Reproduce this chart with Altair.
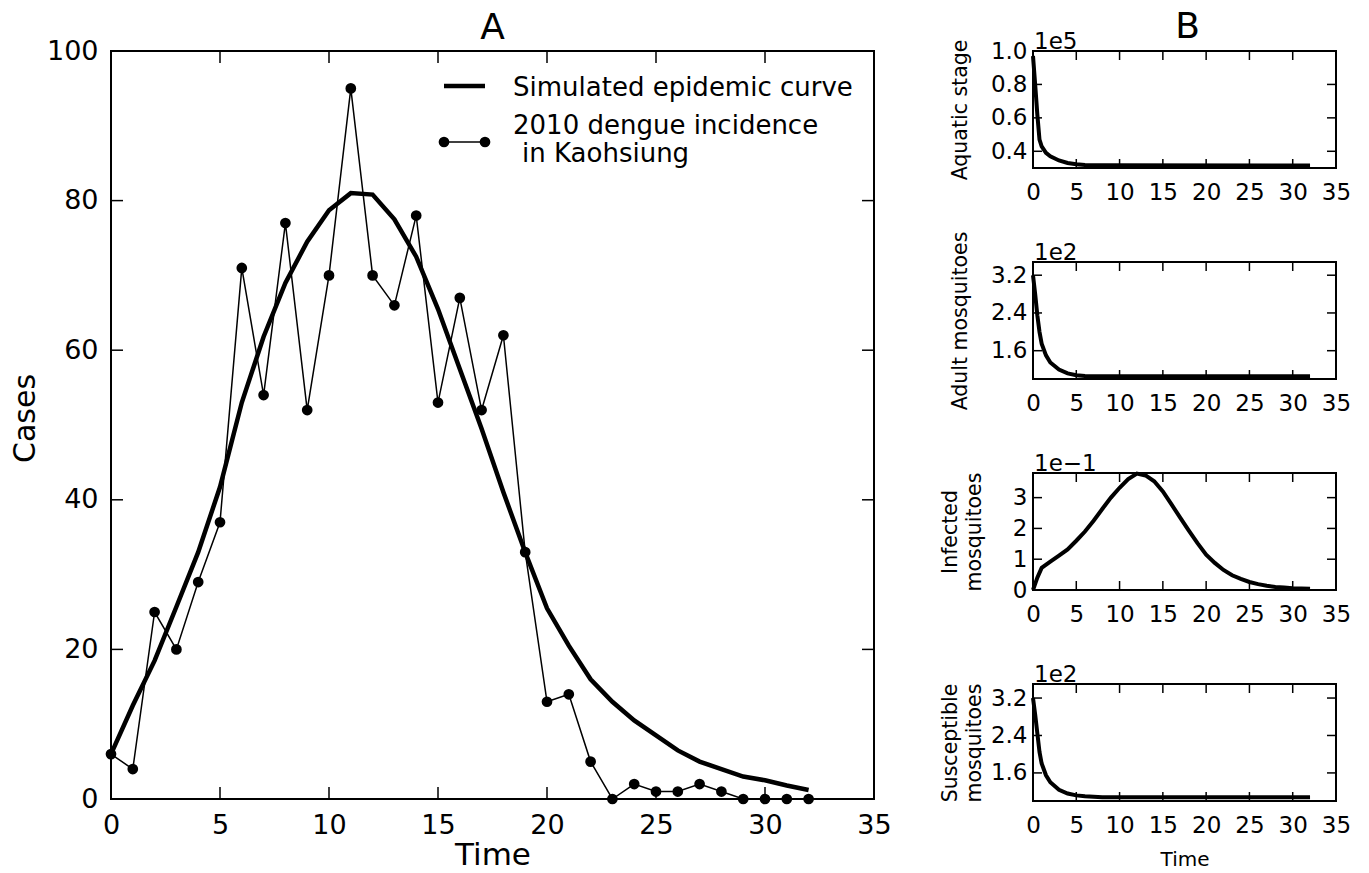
import altair as alt
import pandas as pd

FONT = "DejaVu Sans"

# ---------------- Panel A data ----------------
time_obs = list(range(33))
cases_obs = [6, 4, 25, 20, 29, 37, 71, 54, 77, 52, 70, 95, 70, 66, 78, 53, 67,
             52, 62, 33, 13, 14, 5, 0, 2, 1, 1, 2, 1, 0, 0, 0, 0]
time_sim = list(range(33))
cases_sim = [6, 12.5, 18.5, 25.7, 33, 41.7, 53, 61.8, 69, 74.5, 78.7, 81, 80.8,
             77.5, 72.5, 65.5, 57.5, 49.5, 41, 33, 25.5, 20.5, 16, 13, 10.5,
             8.5, 6.5, 5, 4, 3, 2.5, 1.8, 1.2]
xticks_a = [0, 5, 10, 15, 20, 25, 30, 35]
yticks_a = [0, 20, 40, 60, 80, 100]
legend_labels = ["Simulated epidemic curve", "2010 dengue incidence", "in Kaohsiung"]

# ---------------- Panel B data ----------------
t_fast = [0, 0.25, 0.5, 0.75, 1, 1.5, 2, 3, 4, 5, 6, 8, 32]
aquatic = [0.97, 0.80, 0.62, 0.47, 0.43, 0.39, 0.37, 0.345, 0.33, 0.322, 0.318, 0.316, 0.315]
adult = [3.2, 2.8, 2.35, 2.0, 1.75, 1.5, 1.35, 1.2, 1.12, 1.08, 1.065, 1.06, 1.06]
susceptible = [3.2, 2.85, 2.45, 2.05, 1.8, 1.55, 1.4, 1.24, 1.16, 1.12, 1.1, 1.08, 1.08]
t_inf = [0, 0.5, 1, 2, 3, 4, 5, 6, 7, 8, 9, 10, 11, 12, 13, 14, 15, 16, 17, 18, 19,
         20, 21, 22, 23, 24, 25, 26, 27, 28, 29, 30, 31, 32]
infected = [0, 0.4, 0.72, 0.92, 1.12, 1.32, 1.6, 1.9, 2.25, 2.63, 3.0, 3.32, 3.6,
            3.78, 3.72, 3.53, 3.2, 2.78, 2.35, 1.93, 1.52, 1.15, 0.88, 0.65, 0.48,
            0.36, 0.26, 0.19, 0.14, 0.1, 0.08, 0.06, 0.05, 0.04]
xticks_b = [0, 5, 10, 15, 20, 25, 30, 35]
multipliers = ["1e5", "1e2", "1e\u22121", "1e2"]

W_A, H_A = 763, 748
W_B, H_B = 303, 117
TICK_A, TICK_B = 12, 9
tick_style = dict(color="black", strokeWidth=1.5)
one = pd.DataFrame({"k": [0]})

# ---------------- Panel A ----------------
xA = alt.Scale(domain=[0, 35], nice=False, zero=False)
yA = alt.Scale(domain=[0, 100], nice=False, zero=False)
axA_x = alt.Axis(values=xticks_a, title="Time", labelFontSize=27, labelPadding=13,
                 labelFlush=False, labelOverlap=False, titleFontSize=31,
                 titleY=41, titleBaseline="top")
axA_y = alt.Axis(values=yticks_a, title="Cases", labelFontSize=27, labelPadding=13,
                 labelFlush=False, labelOverlap=False, titleFontSize=30,
                 titleAngle=-90, titleX=-86, titleY=H_A / 2 - 7,
                 titleAlign="center", titleBaseline="middle")


def XA(field="t"):
    return alt.X(f"{field}:Q", scale=xA, axis=axA_x, title="Time")


def YA(field="c"):
    return alt.Y(f"{field}:Q", scale=yA, axis=axA_y, title="Cases")


sim_df = pd.DataFrame({"t": time_sim, "c": cases_sim})
obs_df = pd.DataFrame({"t": time_obs, "c": cases_obs})

sim_line = alt.Chart(sim_df).mark_line(color="black", strokeWidth=4.5).encode(
    x=XA(), y=YA())
obs_line = alt.Chart(obs_df).mark_line(color="black", strokeWidth=1.5).encode(
    x=XA(), y=YA())
obs_pts = alt.Chart(obs_df).mark_circle(color="black", size=115, opacity=1).encode(
    x=XA(), y=YA())

txA = pd.DataFrame({"t": xticks_a})
tyA = pd.DataFrame({"c": yticks_a})
a_ticks = [
    alt.Chart(txA).mark_rule(**tick_style).encode(
        x=XA(), y=alt.value(0), y2=alt.value(TICK_A)),
    alt.Chart(txA).mark_rule(**tick_style).encode(
        x=XA(), y=alt.value(H_A), y2=alt.value(H_A - TICK_A)),
    alt.Chart(tyA).mark_rule(**tick_style).encode(
        y=YA(), x=alt.value(0), x2=alt.value(TICK_A)),
    alt.Chart(tyA).mark_rule(**tick_style).encode(
        y=YA(), x=alt.value(W_A), x2=alt.value(W_A - TICK_A)),
]

leg_sim = alt.Chart(one).mark_rule(color="black", strokeWidth=4.5).encode(
    x=alt.value(333), x2=alt.value(374), y=alt.value(35))
leg_obs = alt.Chart(one).mark_rule(color="black", strokeWidth=1.5).encode(
    x=alt.value(333), x2=alt.value(374), y=alt.value(91))
leg_pts = alt.Chart(pd.DataFrame({"px": [333, 374], "py": [91, 91]})).mark_circle(
    color="black", size=115, opacity=1).encode(
    x=alt.X("px:Q", scale=None), y=alt.Y("py:Q", scale=None))
leg_txt = alt.Chart(pd.DataFrame({
    "label": legend_labels, "px": [402, 402, 411], "py": [45, 83, 111]})).mark_text(
    align="left", baseline="alphabetic", fontSize=26, font=FONT, color="black").encode(
    x=alt.X("px:Q", scale=None), y=alt.Y("py:Q", scale=None), text="label:N")
title_a = alt.Chart(one).mark_text(
    text="A", fontSize=36, font=FONT, align="center", baseline="alphabetic",
    color="black").encode(x=alt.value(W_A / 2), y=alt.value(-12))

panel_a = alt.layer(sim_line, obs_line, obs_pts, *a_ticks, leg_sim, leg_obs,
                    leg_pts, leg_txt, title_a).properties(width=W_A, height=H_A)


# ---------------- Panel B ----------------
def panel_b(times, vals, ydom, yticks, yfmt, ytitle, mult, last=False, first=False):
    xs = alt.Scale(domain=[0, 35], nice=False, zero=False)
    ys = alt.Scale(domain=ydom, nice=False, zero=False)
    two_line = isinstance(ytitle, list)
    ax_x = alt.Axis(values=xticks_b, title="Time" if last else "",
                    labelFontSize=23, labelPadding=13, labelFlush=False,
                    labelOverlap=False, titleFontSize=20, titleY=48,
                    titleBaseline="top")
    ax_y = alt.Axis(values=yticks, format=yfmt, title=ytitle, labelFontSize=23,
                    labelPadding=6, labelFlush=False, labelOverlap=False,
                    titleFontSize=20.5, titleAngle=-90,
                    titleX=-83 if two_line else -72.5, titleY=H_B / 2,
                    titleAlign="center", titleBaseline="middle", titleLineHeight=24)

    def X():
        return alt.X("t:Q", scale=xs, axis=ax_x, title="Time" if last else "")

    def Y():
        return alt.Y("v:Q", scale=ys, axis=ax_y, title=ytitle)

    df = pd.DataFrame({"t": times, "v": vals})
    line = alt.Chart(df).mark_line(color="black", strokeWidth=4).encode(x=X(), y=Y())
    tx = pd.DataFrame({"t": xticks_b})
    ty = pd.DataFrame({"v": yticks})
    ticks = [
        alt.Chart(tx).mark_rule(**tick_style).encode(
            x=X(), y=alt.value(0), y2=alt.value(TICK_B)),
        alt.Chart(tx).mark_rule(**tick_style).encode(
            x=X(), y=alt.value(H_B), y2=alt.value(H_B - TICK_B)),
        alt.Chart(ty).mark_rule(**tick_style).encode(
            y=Y(), x=alt.value(0), x2=alt.value(TICK_B)),
        alt.Chart(ty).mark_rule(**tick_style).encode(
            y=Y(), x=alt.value(W_B), x2=alt.value(W_B - TICK_B)),
    ]
    mult_txt = alt.Chart(pd.DataFrame({"m": [mult]})).mark_text(
        align="left", baseline="alphabetic", fontSize=23, font=FONT,
        color="black").encode(x=alt.value(1), y=alt.value(-2), text="m:N")
    layers = [line, *ticks, mult_txt]
    if first:
        layers.append(alt.Chart(one).mark_text(
            text="B", fontSize=36, font=FONT, align="center",
            baseline="alphabetic", color="black").encode(
            x=alt.value(W_B / 2 + 3), y=alt.value(-13)))
    return alt.layer(*layers).properties(width=W_B, height=H_B)


b1 = panel_b(t_fast, aquatic, [0.3, 1.0], [0.4, 0.6, 0.8, 1.0], ".1f",
             "Aquatic stage", multipliers[0], first=True)
b2 = panel_b(t_fast, adult, [1.0, 3.48], [1.6, 2.4, 3.2], ".1f",
             "Adult mosquitoes", multipliers[1])
b3 = panel_b(t_inf, infected, [0, 3.8], [0, 1, 2, 3], "d",
             ["Infected", "mosquitoes"], multipliers[2])
b4 = panel_b(t_fast, susceptible, [1.0, 3.5], [1.6, 2.4, 3.2], ".1f",
             ["Susceptible", "mosquitoes"], multipliers[3], last=True)

right = alt.vconcat(b1, b2, b3, b4, spacing=94, bounds="flush")

chart = alt.hconcat(panel_a, right, spacing=159, bounds="flush").properties(
    padding={"left": 9, "top": 8, "right": 5, "bottom": 5},
    background="white",
).configure_view(stroke="black", strokeWidth=2).configure_axis(
    grid=False, domain=False, ticks=False, labelFont=FONT, titleFont=FONT,
    labelColor="black", titleColor="black", titleFontWeight="normal",
)

chart.save("out.html", embed_options={"renderer": "svg", "actions": False})
